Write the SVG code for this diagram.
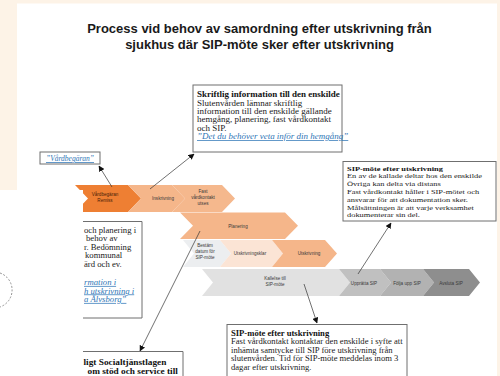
<svg xmlns="http://www.w3.org/2000/svg" width="500" height="376" viewBox="0 0 500 376">
<defs>
<style>
.title{font-family:"Liberation Sans",Arial,sans-serif;font-weight:bold;font-size:13px;fill:#1a1a1a;text-anchor:middle}
.ct{font-family:"Liberation Sans",Arial,sans-serif;font-size:4.6px;fill:#3a3a3a;text-anchor:middle}
.ctd{font-family:"Liberation Sans",Arial,sans-serif;font-size:4.6px;fill:#4a2208;text-anchor:middle}
.bx{fill:#ffffff;stroke:#6f6f6f;stroke-width:1}
.t{font-family:"Liberation Serif","Times New Roman",serif;font-size:9px;fill:#1a1a1a}
.tb{font-family:"Liberation Serif","Times New Roman",serif;font-size:9px;font-weight:bold;fill:#111}
.lk{font-family:"Liberation Serif","Times New Roman",serif;font-size:9px;font-style:italic;fill:#2e75b6;text-decoration:underline}
.s2{font-size:8.4px}
.s3{font-size:8.6px}
.sl{font-size:8.7px}
.so{font-size:9.3px}
.con{fill:none;stroke:#333;stroke-width:0.7}
</style>
<marker id="ah" viewBox="0 0 10 10" refX="9" refY="5" markerWidth="6" markerHeight="6" orient="auto" markerUnits="userSpaceOnUse">
<path d="M0,0 L10,5 L0,10 Z" fill="#111"/>
</marker>
</defs>
<rect x="0" y="0" width="500" height="376" fill="#ffffff"/>
<rect x="0" y="0" width="500" height="3.5" fill="#fdf3e7"/>
<rect x="0" y="0" width="17" height="190" fill="#fdf3e7"/>
<rect x="497" y="0" width="3" height="376" fill="#fdf3e7"/>

<g id="title">
<text class="title" x="259.5" y="33">Process vid behov av samordning efter utskrivning från</text>
<text class="title" x="259.5" y="48.5">sjukhus där SIP-möte sker efter utskrivning</text>
</g>

<g id="chevrons">
<g id="c-vardbegaran">
<path d="M75,185 L128,185 L141,198.5 L128,212 L75,212 L88,198.5 Z" fill="#ee7f33"/>
<text class="ctd" x="105" y="195.8">Vårdbegäran</text>
<text class="ctd" x="105" y="201.6">Remiss</text>
</g>
<g id="c-inskrivning">
<path d="M128,185 L172,185 L185,198.5 L172,212 L128,212 L141,198.5 Z" fill="#f5b68a"/>
<text class="ct" x="163" y="200">Inskrivning</text>
</g>
<g id="c-fast">
<path d="M172,185 L222,185 L235,198.5 L222,212 L172,212 L185,198.5 Z" fill="#f5b88d"/>
<text class="ct" x="203" y="193">Fast</text>
<text class="ct" x="203" y="198.8">vårdkontakt</text>
<text class="ct" x="203" y="204.6">utses</text>
</g>
<g id="c-planering">
<path d="M180,212.5 L285,212.5 L298,225.75 L285,239 L180,239 L193,225.75 Z" fill="#f5b68a"/>
<text class="ct" x="238" y="228">Planering</text>
</g>
<g id="c-bestam">
<path d="M183,240 L220,240 L231,253.5 L220,267 L183,267 L194,253.5 Z" fill="#eceef0"/>
<text class="ct" x="205" y="247.4">Bestäm</text>
<text class="ct" x="205" y="253.2">datum för</text>
<text class="ct" x="205" y="259">SIP-möte</text>
</g>
<g id="c-utskrivningsklar">
<path d="M220,240 L272,240 L283,253.5 L272,267 L220,267 L231,253.5 Z" fill="#fbe4d5"/>
<text class="ct" x="250" y="255">Utskrivningsklar</text>
</g>
<g id="c-utskrivning">
<path d="M272,240 L325,240 L337,253.5 L325,267 L272,267 L283,253.5 Z" fill="#f5b68a"/>
<text class="ct" x="309" y="255">Utskrivning</text>
</g>
<g id="c-kallelse">
<path d="M202,269 L339,269 L350,282.5 L339,296 L202,296 L213,282.5 Z" fill="#e1e1e1"/>
<text class="ct" x="275" y="279.8">Kallelse till</text>
<text class="ct" x="275" y="285.6">SIP-möte</text>
</g>
<g id="c-upprätta">
<path d="M339,269 L380,269 L391,282.5 L380,296 L339,296 L350,282.5 Z" fill="#c0c0c0"/>
<text class="ct" x="364" y="284.5">Upprätta SIP</text>
</g>
<g id="c-folja">
<path d="M380,269 L423,269 L434,282.5 L423,296 L380,296 L391,282.5 Z" fill="#b2b2b2"/>
<text class="ct" x="407" y="284.5">Följa upp SIP</text>
</g>
<g id="c-avsluta">
<path d="M423,269 L469,269 L480,282.5 L469,296 L423,296 L434,282.5 Z" fill="#8e8e8e"/>
<text class="ct" x="451" y="284.5">Avsluta SIP</text>
</g>
</g>

<g id="connectors">
<line class="con" x1="112" y1="187" x2="99" y2="166" marker-end="url(#ah)"/>
<line class="con" x1="150" y1="189" x2="194" y2="154" marker-end="url(#ah)"/>
<line class="con" x1="200" y1="231" x2="140" y2="351" marker-end="url(#ah)"/>
<line class="con" x1="304" y1="284" x2="317" y2="323" marker-end="url(#ah)"/>
<line class="con" x1="358" y1="274" x2="391" y2="223" marker-end="url(#ah)"/>
</g>

<g id="box-vardbegaran">
<rect class="bx" x="40" y="152" width="60" height="12" stroke-width="1.2"/>
<text class="lk" x="70" y="161" text-anchor="middle" style="font-size:7.5px">”Vårdbegäran”</text>
</g>

<g id="box-skriftlig">
<rect class="bx" x="193" y="85" width="149" height="67"/>
<text class="tb" transform="translate(197,97.3) scale(1,0.82)">Skriftlig information till den enskilde</text>
<text class="t" transform="translate(197,105.6) scale(1,0.82)">Slutenvården lämnar skriftlig</text>
<text class="t" transform="translate(197,113.9) scale(1,0.82)">information till den enskilde  gällande</text>
<text class="t" transform="translate(197,122.2) scale(1,0.82)">hemgång, planering, fast vårdkontakt</text>
<text class="t" transform="translate(197,130.5) scale(1,0.82)">och SIP.</text>
<text class="lk" transform="translate(197,139.2) scale(1,0.82)">”Det du behöver veta inför din hemgång”</text>
</g>

<g id="box-sip-distans">
<rect class="bx" x="343" y="161.5" width="153" height="59.5"/>
<text class="tb s2" transform="translate(347,170.5) scale(1,0.82)">SIP-möte efter utskrivning</text>
<text class="t s2" transform="translate(347,178.3) scale(1,0.82)">En av de kallade deltar hos den enskilde</text>
<text class="t s2" transform="translate(347,186.1) scale(1,0.82)">Övriga kan delta via distans</text>
<text class="t s2" transform="translate(347,193.9) scale(1,0.82)">Fast vårdkontakt håller i SIP-mötet och</text>
<text class="t s2" transform="translate(347,201.7) scale(1,0.82)">ansvarar för att dokumentation sker.</text>
<text class="t s2" transform="translate(347,209.5) scale(1,0.82)">Målsättningen är att varje verksamhet</text>
<text class="t s2" transform="translate(347,217.3) scale(1,0.82)">dokumenterar sin del.</text>
</g>

<g id="box-sip-samtycke">
<rect class="bx" x="227" y="324.5" width="180" height="60"/>
<text class="tb s3" transform="translate(231,336) scale(1,0.86)">SIP-möte efter utskrivning</text>
<text class="t s3" transform="translate(231,344.4) scale(1,0.86)">Fast vårdkontakt kontaktar den enskilde i syfte att</text>
<text class="t s3" transform="translate(231,352.8) scale(1,0.86)">inhämta samtycke till SIP före utskrivning från</text>
<text class="t s3" transform="translate(231,361.2) scale(1,0.86)">slutenvården. Tid för SIP-möte meddelas inom 3</text>
<text class="t s3" transform="translate(231,369.8) scale(1,0.86)">dagar efter utskrivning.</text>
</g>

<g id="left-panel">
<rect x="0" y="190" width="83" height="186" fill="#ffffff"/>
<path d="M0,273 A18,18 0 0 1 0,307" fill="none" stroke="#7a7a7a" stroke-width="0.8" stroke-dasharray="2 1.6"/>
</g>

<g id="box-planering-partial">
<path d="M83,221.5 L142,221.5 L142,318 L83,318" fill="none" stroke="#6f6f6f" stroke-width="1"/>
<text class="t sl" transform="translate(84,233) scale(1,0.85)">och planering  i</text>
<text class="t sl" transform="translate(86,241.4) scale(1,0.85)">behov av</text>
<text class="t sl" transform="translate(84,249.8) scale(1,0.85)">r. Bedömning</text>
<text class="t sl" transform="translate(85,258.2) scale(1,0.85)">kommunal</text>
<text class="t sl" transform="translate(84,266.6) scale(1,0.85)">ärd och ev.</text>
<text class="lk sl" transform="translate(84,285) scale(1,0.85)">rmation i</text>
<text class="lk sl" transform="translate(84,293.5) scale(1,0.85)">h utskrivning i</text>
<text class="lk sl" transform="translate(84,302) scale(1,0.85)">a Älvsborg”</text>
</g>

<g id="box-sol-partial">
<path d="M83,351.5 L183,351.5 L183,376" fill="none" stroke="#6f6f6f" stroke-width="1"/>
<text class="tb so" transform="translate(83.5,365) scale(1,0.81)">ligt Socialtjänstlagen</text>
<text class="tb so" transform="translate(87.5,373.5) scale(1,0.81)">om stöd och service till</text>
</g>
</svg>
